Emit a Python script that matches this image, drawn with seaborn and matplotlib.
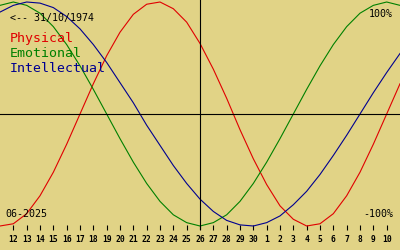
import matplotlib
matplotlib.use("Agg")
import matplotlib.pyplot as plt
import seaborn as sns
import pandas as pd

# Day offsets relative to the centre day (26 June 2025)
day_offsets = list(range(-15, 16))
day_labels = ["12", "13", "14", "15", "16", "17", "18", "19", "20", "21", "22", "23", "24",
              "25", "26", "27", "28", "29", "30", "1", "2", "3", "4", "5", "6", "7", "8", "9", "10"]
tick_offsets = list(range(-14, 15))

physical = [-1.00, -0.98, -0.89, -0.73, -0.52, -0.27, 0.00, 0.27, 0.52, 0.73, 0.89, 0.98,
            1.00, 0.94, 0.82, 0.63, 0.40, 0.14, -0.14, -0.40, -0.63, -0.82, -0.94, -1.00,
            -0.98, -0.89, -0.73, -0.52, -0.27, 0.00, 0.27]
emotional = [0.97, 1.00, 0.97, 0.90, 0.78, 0.62, 0.43, 0.22, 0.00, -0.22, -0.43, -0.62,
             -0.78, -0.90, -0.97, -1.00, -0.97, -0.90, -0.78, -0.62, -0.43, -0.22, 0.00,
             0.22, 0.43, 0.62, 0.78, 0.90, 0.97, 1.00, 0.97]
intellectual = [0.91, 0.97, 1.00, 0.99, 0.95, 0.87, 0.76, 0.62, 0.46, 0.28, 0.10, -0.10,
                -0.28, -0.46, -0.62, -0.76, -0.87, -0.95, -0.99, -1.00, -0.97, -0.91, -0.81,
                -0.69, -0.54, -0.37, -0.19, 0.00, 0.19, 0.37, 0.54]

series_names = ["Physical", "Emotional", "Intellectual"]
series_colors = ["#e00000", "#008000", "#000090"]

df = pd.concat([
    pd.DataFrame({"day": day_offsets, "value": vals, "cycle": name})
    for name, vals in zip(series_names, [physical, emotional, intellectual])
])

BG = "#e1d386"
W, H = 400, 250
fig = plt.figure(figsize=(W / 100, H / 100), dpi=100, facecolor=BG)
ax = fig.add_axes([0, 20 / H, 1, 230 / H])
ax.set_facecolor(BG)

sns.lineplot(data=df, x="day", y="value", hue="cycle", palette=series_colors,
             hue_order=series_names, ax=ax, legend=False, linewidth=0.8)

ax.axhline(0, color="black", linewidth=0.8)
ax.axvline(0, color="black", linewidth=0.8)

ax.set_xlim(-15, 15)
ax.set_ylim(-(230 - 114) / 112, 114 / 112)
for s in ax.spines.values():
    s.set_visible(False)
ax.set_xlabel("")
ax.set_ylabel("")
ax.set_yticks([])
ax.set_xticks(tick_offsets)
ax.set_xticklabels(day_labels, fontfamily="DejaVu Sans Mono", fontsize=5.8, fontweight="bold")
ax.tick_params(axis="x", direction="in", length=3.6, width=0.8, color="black", pad=3.5)

mono = "DejaVu Sans Mono"

def ftext(x, y, s, **kw):
    fig.text(x / W, 1 - y / H, s, fontfamily=mono, va="baseline", **kw)

ftext(10, 21, "<-- 31/10/1974", fontsize=7.2, color="black")
ftext(393, 17, "100%", fontsize=7.2, color="black", ha="right")
ftext(393, 217, "-100%", fontsize=7.2, color="black", ha="right")
ftext(5, 217, "06-2025", fontsize=7.2, color="black")
for i, (name, col) in enumerate(zip(series_names, series_colors)):
    ftext(10, 42 + 15 * i, name, fontsize=9.5, color=col)

fig.savefig("out.png", dpi=100, facecolor=BG)
